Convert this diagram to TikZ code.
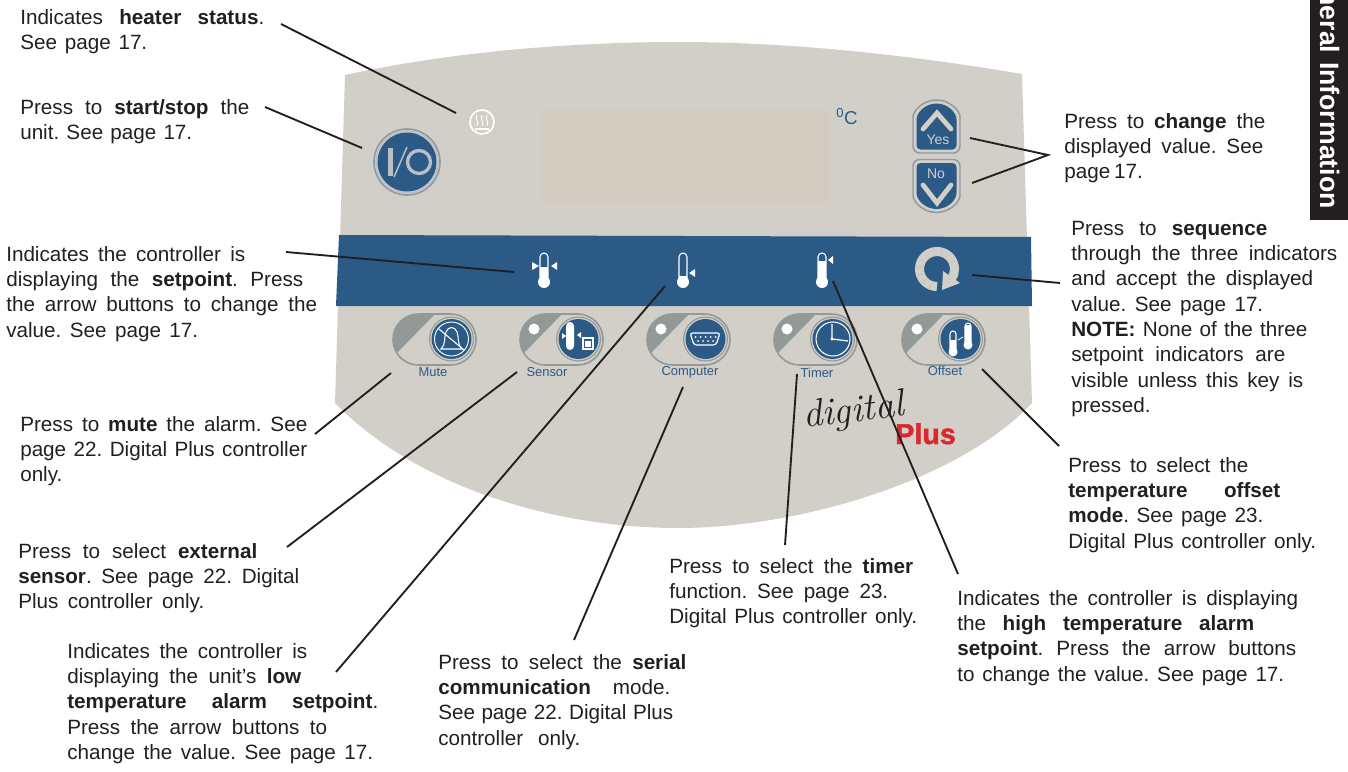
\documentclass[tikz,border=0pt]{standalone}
\usepackage{fontspec}
\setmainfont{Liberation Sans}
\newfontface\plusface{Liberation Sans Bold}[FakeBold=1.6]
\usepackage{tikz}

\definecolor{panelgray}{HTML}{D2CFC9}
\definecolor{bandblue}{HTML}{2A5A85}
\definecolor{keygray}{HTML}{939996}
\definecolor{ringgray}{HTML}{8E9AA3}
\definecolor{iogray}{HTML}{B9BFC4}
\definecolor{displaytan}{HTML}{D3CCC1}
\definecolor{plusred}{HTML}{D9282E}
\definecolor{inkblack}{HTML}{231F20}

\newdimen\pxu
\pxu=0.75pt
\newcommand{\fitline}[2]{\makebox[#1\pxu][s]{\strut #2}}

% rounded key with its grey wedge and blue disc
\newcommand{\keypill}[1]{
    \begin{scope}[shift={(#1,314)}]
        \begin{scope}
            \clip[rounded corners=19pt] (0, 0) rectangle (83, 51);
            \fill[keygray] (0, 0) -- (42, 0) -- (4, 39) -- (0, 39) -- cycle;
        \end{scope}
        \draw[keygray, line width=1.2pt, rounded corners=19pt] (0, 0) rectangle (83, 51);
        \fill[keygray] (58.5, 25) circle (22.5);
        \fill[panelgray] (58.5, 25) circle (21.3);
        \fill[bandblue] (58.5, 25) circle (20);
    \end{scope}
}
% Yes/No key: #1 centre y, #2 is 1 for dome on top and -1 for dome below
\newcommand{\arrowkey}[2]{
    \begin{scope}[shift={(936.5,#1)}, yscale=#2]
        \draw[ringgray, line width=1.1pt, fill=panelgray, rounded corners=5pt] (-23.5, -3) arc (180:360:23.5) -- (23.5, 26.5) -- (-23.5, 26.5) -- cycle;
        \fill[bandblue, rounded corners=3pt] (-20, -3) arc (180:360:20) -- (20, 23) -- (-20, 23) -- cycle;
    \end{scope}
}
% thermometer: x, tube top, bulb y, fill top, half width, bulb radius
\newcommand{\thermo}[6]{
    \draw[white, line width=0.8pt] (#1-#5, #3) -- (#1-#5, #2+#5) arc (180:360:#5) -- (#1+#5, #3);
    \fill[white] (#1-#5, #3) -- (#1-#5, #4) -- (#1+#5, #4) -- (#1+#5, #3) -- cycle;
    \fill[white] (#1, #3) circle (#6);
}

\tikzset{
    callout/.style={font=\frenchspacing\fontsize{15.5}{19}\selectfont, anchor=north west, inner sep=0pt, align=left, text=inkblack},
    keylabel/.style={font=\fontsize{9.7}{11}\selectfont, text=bandblue, inner sep=0pt},
    leader/.style={inkblack, line width=1.4pt},
    pointer/.style={white, fill=white}
}

\begin{document}
\begin{tikzpicture}[x=0.75pt, y=-0.75pt]
    \useasboundingbox (0, 0) rectangle (1348, 771);

    % panel and band
    \fill[panelgray] (345, 75) .. controls (450, 52) and (570, 42) .. (680, 42) .. controls (790, 42) and (910, 55) .. (1022, 74)
        -- (1032, 403) .. controls (960, 480) and (800, 528) .. (678, 528) .. controls (560, 528) and (420, 490) .. (335, 403) -- cycle;
    \fill[bandblue] (339, 235) -- (1031, 237) -- (1032, 306) -- (336, 306) -- cycle;
    \fill[displaytan] (540, 108) rectangle (830, 204);
    \node[font=\fontsize{14}{16}\selectfont, text=bandblue, inner sep=0pt] (degC) at (847, 117) {\textsuperscript{0}C};

    % side tab
    \fill[inkblack] (1310, 0) rectangle (1348, 220);
    \node[font=\bfseries\fontsize{20}{22}\selectfont, text=white, rotate=-90, anchor=base east, inner sep=0pt] (tabText) at (1320, 209) {neral\ \hspace{1pt}Information};

    % start/stop key
    \draw[ringgray, line width=1.2pt] (407, 162) circle (33);
    \fill[bandblue] (407, 162) circle (29.5);
    \draw[iogray, line width=0.9pt] (407, 162) circle (31);
    \fill[iogray] (388, 148) rectangle (392.5, 176);
    \draw[iogray, line width=1.1pt] (394, 177) -- (407, 147);
    \draw[iogray, line width=2.5pt] (419, 162) circle (11.5);

    % heater icon
    \draw[white, line width=1.3pt] (482, 122) circle (12);
    \foreach \wavex in {477, 482, 487} {
        \draw[white, line width=0.7pt] (\wavex, 115) .. controls (\wavex-3, 119) and (\wavex+3, 122) .. (\wavex, 126);
    }
    \draw[white, line width=0.8pt] (475, 129) -- (489, 129);

    % yes and no keys
    \arrowkey{126.5}{1}
    \arrowkey{186}{-1}
    \draw[panelgray, line width=3.6pt, line cap=round] (923, 129) -- (937, 113) -- (951, 129);
    \draw[panelgray, line width=3.6pt, line cap=round] (923, 185) -- (937, 203) -- (951, 185);
    \node[font=\fontsize{10.5}{12}\selectfont, text=panelgray, inner sep=0pt] (yesText) at (938, 140) {Yes};
    \node[font=\fontsize{10.5}{12}\selectfont, text=panelgray, inner sep=0pt] (noText) at (936, 174) {No};

    % thermometers on the band
    \thermo{544}{253}{282}{267}{4}{6}
    \fill[pointer] (532, 262) -- (539, 266) -- (532, 270) -- cycle;
    \fill[pointer] (557, 262) -- (551, 266) -- (557, 270) -- cycle;
    \thermo{683}{253}{282}{276}{4}{6}
    \fill[pointer] (695, 269) -- (689, 273) -- (695, 277) -- cycle;
    \thermo{822}{253}{282}{261}{4}{6}
    \fill[pointer] (833, 256) -- (828, 260) -- (833, 264) -- cycle;

    % sequence arrow
    \draw[panelgray, line width=6.8pt] (937, 286.5) arc (90:395:17.5);
    \foreach \tickangle in {110, 135, 160, 185, 210, 235, 260, 285, 310, 335} {
        \draw[iogray, line width=0.3pt] (937, 269) ++(\tickangle:13) -- ++(\tickangle:9);
    }
    \fill[panelgray] (943, 271) -- (960, 283) -- (942, 290) -- cycle;

    % keys
    \keypill{393}
    \keypill{520}
    \keypill{647}
    \keypill{774}
    \keypill{902}
    \foreach \dotx in {534, 661, 787, 917} {
        \fill[white] (\dotx, 329) circle (5.5);
    }
    \node[keylabel] (muteLabel) at (433, 372) {Mute};
    \node[keylabel] (sensorLabel) at (547, 372) {Sensor};
    \node[keylabel] (computerLabel) at (690, 372) {Computer};
    \node[keylabel] (timerLabel) at (817, 373) {Timer};
    \node[keylabel] (offsetLabel) at (945, 371) {Offset};

    % mute icon
    \draw[white, line width=0.7pt] (451.5, 339) circle (17);
    \draw[white, line width=0.8pt] (441, 349) .. controls (446, 345) and (444, 336) .. (446, 332) .. controls (448, 326) and (455, 326) .. (457, 332) .. controls (459, 336) and (457, 345) .. (462, 349) -- cycle;
    \draw[white, line width=0.8pt] (439, 329) -- (464, 350);
    % sensor icon
    \fill[white] (566, 326) arc (180:360:4) -- (574, 346) arc (0:180:4) -- cycle;
    \fill[white] (562, 333) -- (566, 336) -- (562, 339) -- cycle;
    \fill[white] (577, 335) -- (581, 332) -- (581, 338) -- cycle;
    \draw[white, line width=0.8pt] (583, 338) rectangle (593, 349);
    \fill[white] (585, 341) rectangle (591, 347);
    % computer icon
    \draw[white, line width=0.9pt, rounded corners=2pt] (690, 333) -- (720, 333) -- (716, 345) -- (694, 345) -- cycle;
    \foreach \pinx in {696, 701, 706, 711, 716} {
        \fill[white] (\pinx-0.5, 337) circle (1);
    }
    \foreach \pinx in {699, 704, 709, 714} {
        \fill[white] (\pinx-1, 341) circle (1);
    }
    % timer icon
    \draw[white, line width=0.8pt] (833, 339) circle (17);
    \draw[white, line width=0.9pt] (832, 324) -- (832, 339) -- (848, 341);
    \fill[white] (832, 339) circle (1.7);
    % offset icon
    \thermo{953}{331}{352}{340}{3}{4.5}
    \thermo{968}{323}{345}{325}{3}{4.5}
    \draw[white, line width=0.6pt] (958, 340) -- (963, 337);

    % logo
    \node[font=\plusface\fontsize{21.5}{23}\selectfont, text=plusred, anchor=base west, inner sep=0pt] (plusText) at (895, 444) {Plus};
    \node[font=\fontfamily{lmr}\selectfont\itshape\fontsize{29}{31}\selectfont, text=inkblack, rotate=7, anchor=base west, inner sep=0pt] (digitalText) at (804, 428) {digital};

    % texts
    \node[callout] (heaterText) at (20, 6) {\fitline{244}{Indicates \textbf{heater status}.}\\ \fitline{127}{See page 17.}};
    \node[callout] (startText) at (20, 96) {\fitline{229}{Press to \textbf{start/stop} the}\\ \fitline{172}{unit. See page 17.}};
    \node[callout] (setpointText) at (6, 243) {\fitline{239}{Indicates the controller is}\\ \fitline{297}{displaying the \textbf{setpoint}. Press}\\ \fitline{311}{the arrow buttons to change the}\\ \fitline{192}{value. See page 17.}};
    \node[callout] (muteText) at (20, 413) {\fitline{287}{Press to \textbf{mute} the alarm. See}\\ \fitline{287}{page 22. Digital Plus controller}\\ \strut only.};
    \node[callout] (sensorText) at (18, 540) {\fitline{239}{Press to select \textbf{external}}\\ \fitline{281}{\textbf{sensor}. See page 22. Digital}\\ \fitline{186}{Plus controller only.}};
    \node[callout] (lowText) at (67, 640) {\fitline{240}{Indicates the controller is}\\ \fitline{234}{displaying the unit's \textbf{low}}\\ \fitline{311}{\textbf{temperature alarm setpoint}.}\\ \fitline{260}{Press the arrow buttons to}\\ \fitline{306}{change the value. See page 17.}};
    \node[callout] (serialText) at (438, 651) {\fitline{248}{Press to select the \textbf{serial}}\\ \fitline{232}{\textbf{communication} mode.}\\ \fitline{235}{See page 22. Digital Plus}\\ \fitline{142}{controller only.}};
    \node[callout] (timerText) at (669, 555) {\fitline{244}{Press to select the \textbf{timer}}\\ \fitline{219}{function. See page 23.}\\ \fitline{248}{Digital Plus controller only.}};
    \node[callout] (highText) at (957, 587) {\fitline{341}{Indicates the controller is displaying}\\ \fitline{297}{the \textbf{high temperature alarm}}\\ \fitline{339}{\textbf{setpoint}. Press the arrow buttons}\\ \fitline{327}{to change the value. See page 17.}};
    \node[callout] (offsetText) at (1068, 454) {\fitline{180}{Press to select the}\\ \fitline{212}{\textbf{temperature offset}}\\ \fitline{195}{\textbf{mode}. See page 23.}\\ \fitline{248}{Digital Plus controller only.}};
    \node[callout] (sequenceText) at (1071, 217) {\fitline{196}{Press to \textbf{sequence}}\\ \fitline{266}{through the three indicators}\\ \fitline{242}{and accept the displayed}\\ \fitline{192}{value. See page 17.}\\ \fitline{236}{\textbf{NOTE:} None of the three}\\ \fitline{214}{setpoint indicators are}\\ \fitline{232}{visible unless this key is}\\ \strut pressed.};
    \node[callout] (changeText) at (1064, 110) {\fitline{201}{Press to \textbf{change} the}\\ \fitline{199}{displayed value. See}\\ \fitline{77}{page 17.}};

    % leader ends
    \coordinate (heaterFrom) at (281, 24);
    \coordinate (heaterTo) at (456, 113);
    \coordinate (startFrom) at (265, 107);
    \coordinate (startTo) at (362, 148);
    \coordinate (changeFrom) at (1048, 155);
    \coordinate (yesTo) at (970, 138);
    \coordinate (noTo) at (972, 183);
    \coordinate (setpointFrom) at (286, 252);
    \coordinate (setpointTo) at (514, 272);
    \coordinate (sequenceFrom) at (1060, 283);
    \coordinate (sequenceTo) at (972, 275);
    \coordinate (lowFrom) at (336, 672);
    \coordinate (lowTo) at (665, 286);
    \coordinate (highFrom) at (958, 574);
    \coordinate (highTo) at (833, 281);
    \coordinate (muteFrom) at (315, 434);
    \coordinate (muteTo) at (391, 373);
    \coordinate (sensorFrom) at (287, 547);
    \coordinate (sensorTo) at (517, 372);
    \coordinate (serialFrom) at (574, 640);
    \coordinate (serialTo) at (683, 387);
    \coordinate (timerFrom) at (785, 545);
    \coordinate (timerTo) at (797, 374);
    \coordinate (offsetFrom) at (1059, 446);
    \coordinate (offsetTo) at (982, 369);

    \draw[leader] (heaterFrom) -- (heaterTo);
    \draw[leader] (startFrom) -- (startTo);
    \draw[leader] (yesTo) -- (changeFrom) -- (noTo);
    \draw[leader] (setpointFrom) -- (setpointTo);
    \draw[leader] (sequenceFrom) -- (sequenceTo);
    \draw[leader] (lowFrom) -- (lowTo);
    \draw[leader] (highFrom) -- (highTo);
    \draw[leader] (muteFrom) -- (muteTo);
    \draw[leader] (sensorFrom) -- (sensorTo);
    \draw[leader] (serialFrom) -- (serialTo);
    \draw[leader] (timerFrom) -- (timerTo);
    \draw[leader] (offsetFrom) -- (offsetTo);
\end{tikzpicture}
\end{document}
